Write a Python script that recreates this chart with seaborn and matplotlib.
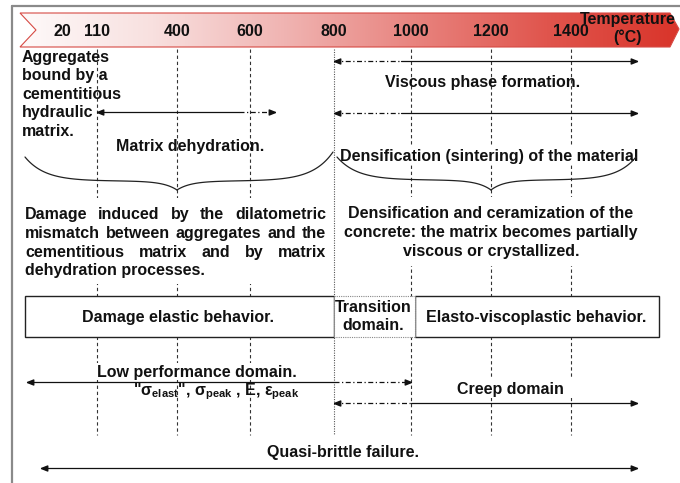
import numpy as np
import matplotlib
matplotlib.use("Agg")
import matplotlib.pyplot as plt
import seaborn as sns
from matplotlib.patches import Polygon, Rectangle
from matplotlib.colors import LinearSegmentedColormap

# temperature axis (°C)
tick_temps = [20, 110, 400, 600, 800, 1000, 1200, 1400]
grid_temps = [110, 400, 600, 1000, 1200, 1400]
boundary_temp = 800

# phenomena ranges (°C): solid part and dash-dot extension of each arrow
dehydration = {"solid": (110, 570), "dashed": (570, 660)}
viscous = {"dashed": (800, 975), "solid": (975, 1565)}
sintering = {"dashed": (800, 975), "solid": (975, 1565)}
low_perf = {"solid": (-70, 800), "dashed": (800, 1000)}
creep = {"dashed": (800, 1000), "solid": (1000, 1565)}
quasi_brittle = {"solid": (-35, 1565)}

# behaviour boxes (°C)
elastic_box = (-75, 800)
transition_box = (800, 1010)
viscoplastic_box = (1010, 1620)

left_block = ["Aggregates", "bound by a", "cementitious", "hydraulic", "matrix."]
left_para = ["Damage induced by the dilatometric",
             "mismatch between aggregates and the",
             "cementitious matrix and by matrix",
             "dehydration processes."]
right_para = ["Densification and ceramization of the",
              "concrete: the matrix becomes partially",
              "viscous or crystallized."]

# non-linear layout of the temperature axis (temperature -> pixel)
knot_temp = [-150, 20, 110, 400, 600, 800, 1000, 1200, 1400, 1800]
knot_px = [-4, 62, 97, 177, 250, 334, 411, 491, 571, 731]


def fwd(t):
    return np.interp(t, knot_temp, knot_px)


def inv(p):
    return np.interp(p, knot_px, knot_temp)


sns.set_theme(style="white")
plt.rcParams["font.family"] = ["Liberation Sans", "DejaVu Sans"]

W, H = 680, 483
fig = plt.figure(figsize=(W / 100, H / 100), dpi=100)

# background axes in pixel units for layout
bg = fig.add_axes([0, 0, 1, 1], zorder=0)
bg.set_xlim(0, W)
bg.set_ylim(H, 0)
bg.axis("off")
px = bg.transData

ax = fig.add_axes([0, 0, 1, 1], zorder=1)
ax.set_xscale("function", functions=(fwd, inv))
ax.set_xlim(inv(0), inv(W))
ax.set_ylim(H, 0)
ax.axis("off")
ax.patch.set_visible(False)

font = dict(fontsize=11.5, fontweight="bold", color="#111111")

# frame
bg.plot([12, 12], [6, H], color="#8a8a8a", lw=1.6)
bg.plot([12, W], [6, 6], color="#8a8a8a", lw=1.6)

# temperature banner with red gradient
banner = [(20, 13), (670, 13), (679, 29), (670, 47), (20, 47), (36, 30)]
cmap = LinearSegmentedColormap.from_list(
    "heat", ["#fefafa", "#f8e0df", "#f0b4b2", "#e8837e", "#e0554d", "#d9342a"])
grad = np.linspace(0, 1, 256).reshape(1, -1)
img = bg.imshow(grad, extent=(20, 680, 47, 13), aspect="auto", cmap=cmap, zorder=1)
poly = Polygon(banner, closed=True, facecolor="none", edgecolor="#d64a44", lw=0.8, zorder=2)
bg.add_patch(poly)
img.set_clip_path(poly)
bg.set_xlim(0, W)
bg.set_ylim(H, 0)

for t in tick_temps:
    ax.text(t, 36.5, str(t), ha="center", va="baseline", zorder=5, **font)
ax.text(628, 24, "Temperature", transform=px, ha="center", va="baseline", zorder=5, **font)
ax.text(628, 42, "(°C)", transform=px, ha="center", va="baseline", zorder=5, **font)

# vertical temperature guides
ax.vlines(grid_temps, 49, 435, colors="#333333", lw=0.8, linestyles=(0, (3, 2.5)), zorder=1)
ax.vlines([boundary_temp], 49, 435, colors="#555555", lw=0.8, linestyles=(0, (1, 1.2)), zorder=1.5)

# arrows
head_r = [(0, 0), (-2.5, 1), (-2.5, -1), (0, 0)]
head_l = [(0, 0), (2.5, 1), (2.5, -1), (0, 0)]


def arrow(rng, y):
    lo, hi = None, None
    for kind, (a, b) in rng.items():
        ls = "-" if kind == "solid" else (0, (4, 2, 1, 2))
        ax.plot([a, b], [y, y], color="#111111", lw=0.9, linestyle=ls, zorder=4)
        lo = a if lo is None else min(lo, a)
        hi = b if hi is None else max(hi, b)
    ax.plot([lo], [y], marker=head_l, ms=9, color="#111111", zorder=4)
    ax.plot([hi], [y], marker=head_r, ms=9, color="#111111", zorder=4)


arrow(dehydration, 112)
arrow(viscous, 61)
arrow(sintering, 113)
arrow(low_perf, 382)
arrow(creep, 403)
arrow(quasi_brittle, 468)


# curly braces (smooth ends, sharp tip)
def brace(x_end0, y_end0, x_tip, y_tip, x_end1, y_end1, y_bar):
    for xe, ye in [(x_end0, y_end0), (x_end1, y_end1)]:
        s = np.linspace(0, 1, 120)
        x = xe + (x_tip - xe) * s
        y = (y_bar + (ye - y_bar) * np.exp(-s / 0.13)
             + (y_tip - y_bar) * np.exp(-(1 - s) / 0.09))
        ax.plot(inv(x), y, color="#222222", lw=0.9, zorder=4)


brace(25, 157, fwd(400), 190, 333, 152, 181)
brace(337, 157, fwd(1200), 190, 636, 157, 180)

# left text block
for line, yb in zip(left_block, [62, 80, 99, 117, 136]):
    ax.text(22, yb, line, transform=px, va="baseline", zorder=3, **font)

ax.text(190, 151, "Matrix dehydration.", transform=px, ha="center", va="baseline", zorder=3, **font)
ax.text(483, 87, "Viscous phase formation.", transform=px, ha="center", va="baseline", zorder=3, **font)
ax.add_patch(Rectangle((338, 145), 300, 19, transform=px, facecolor="white", edgecolor="none", zorder=2))
ax.text(489, 160.5, "Densification (sintering) of the material", transform=px,
        ha="center", va="baseline", zorder=3, **font)

# paragraphs
ax.add_patch(Rectangle((22, 198), 306, 86, transform=px, facecolor="white", edgecolor="none", zorder=2))
ax.add_patch(Rectangle((340, 197), 306, 69, transform=px, facecolor="white", edgecolor="none", zorder=2))

fig.canvas.draw()
renderer = fig.canvas.get_renderer()


def width_of(s):
    t = ax.text(0, 0, s, transform=px, **font)
    w = t.get_window_extent(renderer).width
    t.remove()
    return w


x0, x1 = 25, 326
for i, (line, yb) in enumerate(zip(left_para, [219, 238, 257, 275.5])):
    if i == len(left_para) - 1:
        ax.text(x0, yb, line, transform=px, va="baseline", zorder=3, **font)
        continue
    words = line.split()
    ws = [width_of(w) for w in words]
    gap = (x1 - x0 - sum(ws)) / (len(words) - 1)
    x = x0
    for w, wd in zip(words, ws):
        ax.text(x, yb, w, transform=px, va="baseline", zorder=3, **font)
        x += wd + gap

for line, yb in zip(right_para, [217.5, 237, 256]):
    ax.text(491, yb, line, transform=px, ha="center", va="baseline", zorder=3, **font)

# behaviour boxes
box_kw = dict(facecolor="white", zorder=3)
ax.add_patch(Rectangle((elastic_box[0], 296), elastic_box[1] - elastic_box[0], 41,
                       edgecolor="#222222", lw=1.0, **box_kw))
ax.add_patch(Rectangle((viscoplastic_box[0], 296), viscoplastic_box[1] - viscoplastic_box[0], 41,
                       edgecolor="#222222", lw=1.0, **box_kw))
ax.add_patch(Rectangle((transition_box[0], 296), transition_box[1] - transition_box[0], 41,
                       edgecolor="#888888", lw=0.8, linestyle=(0, (1, 1)), **box_kw))
ax.text(178, 322, "Damage elastic behavior.", transform=px, ha="center", va="baseline", zorder=4, **font)
ax.text(373, 311.5, "Transition", transform=px, ha="center", va="baseline", zorder=4, **font)
ax.text(373, 330, "domain.", transform=px, ha="center", va="baseline", zorder=4, **font)
ax.text(536, 322, "Elasto-viscoplastic behavior.", transform=px, ha="center", va="baseline", zorder=4, **font)

# lower domains
ax.add_patch(Rectangle((95, 363), 205, 17, transform=px, facecolor="white", edgecolor="none", zorder=2))
ax.text(97, 377, "Low performance domain.", transform=px, va="baseline", zorder=3, **font)
ax.text(216, 395, r'"$\mathregular{\sigma_{elast}}$", $\mathregular{\sigma_{peak}}$ , E, '
                  r'$\mathregular{\varepsilon_{peak}}$',
        transform=px, ha="center", va="baseline", zorder=3, **font)
ax.add_patch(Rectangle((452, 377), 122, 21, transform=px, facecolor="white", edgecolor="none", zorder=2))
ax.text(510, 394, "Creep domain", transform=px, ha="center", va="baseline", zorder=3, **font)
ax.text(343, 457, "Quasi-brittle failure.", transform=px, ha="center", va="baseline", zorder=3, **font)

fig.savefig("out.png", dpi=100)
